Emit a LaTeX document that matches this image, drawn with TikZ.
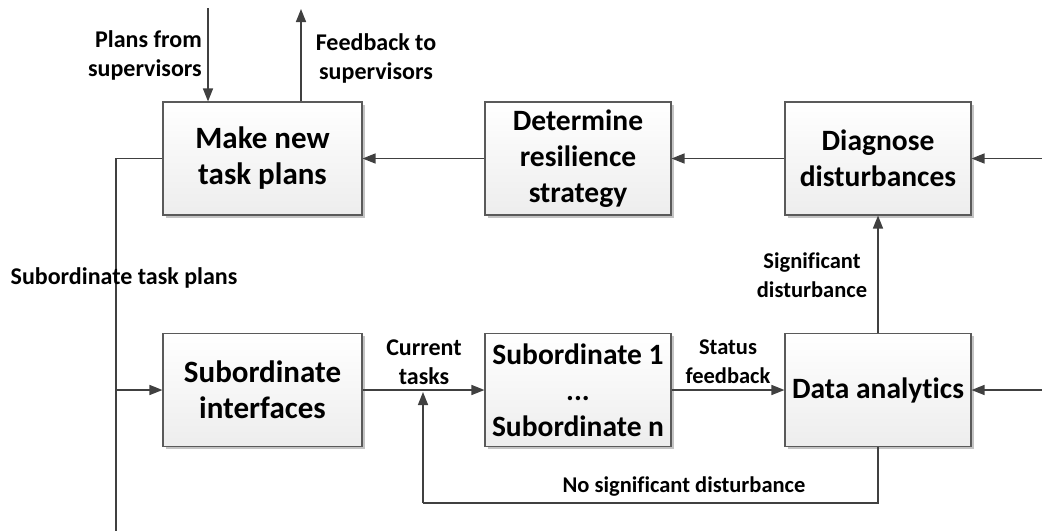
\documentclass[tikz,border=0pt]{standalone}
\usepackage{fontspec}
\setmainfont{Carlito}[Ligatures=NoCommon]
\usetikzlibrary{arrows.meta,shadows,calc}

\definecolor{linegray}{HTML}{404040}
\definecolor{boxborder}{HTML}{5A5A5A}
\definecolor{shadowgray}{HTML}{C4C4C4}

\tikzset{
  block/.style={draw=boxborder, line width=1.1pt,
    top color=white, bottom color=black!7,
    drop shadow={shadow xshift=2.5pt, shadow yshift=-2.5pt, fill=shadowgray, opacity=1},
    align=center, inner sep=0pt,
    font=\fontsize{29.5}{36}\selectfont\bfseries},
  wideblock/.style={block, minimum width=199pt, minimum height=113pt,
    font=\fontsize{31}{36}\selectfont\bfseries},
  narrowblock/.style={block, minimum width=186pt, minimum height=113pt},
  flow/.style={draw=linegray, line width=1.5pt},
  arr/.style={flow, -{Triangle[length=13pt,width=10pt]}},
  lbl/.style={align=center, inner sep=0pt,
    font=\fontsize{22.5}{29}\selectfont\bfseries},
  biglbl/.style={lbl, font=\fontsize{24}{29}\selectfont\bfseries}
}

\begin{document}
\begin{tikzpicture}[x=1pt,y=-1pt]
\useasboundingbox (0,0) rectangle (1042,531);

% top row
\node[wideblock]   (make) at (262.5,158.5) {Make new\\task plans};
\node[narrowblock] (det)  at (578,158.5)   {Determine\\resilience\\strategy};
\node[narrowblock] (diag) at (878,158.5)   {Diagnose\\disturbances};

% bottom row
\node[wideblock]   (subint) at (262.5,390) {Subordinate\\interfaces};
\node[narrowblock] (subs)   at (578,390)   {Subordinate 1\\...\\Subordinate n};
\node[narrowblock] (data)   at (878,390)   {Data analytics};

% loose ends of connectors
\coordinate (pin)  at (208,8);
\coordinate (fout) at (301,9);
\coordinate (rin1) at (1042,158.5);
\coordinate (rin2) at (1042,390);
\coordinate (bus)  at (116,531);
\coordinate (back) at (423,503);

% supervisor links
\draw[arr] (pin) -- (pin |- make.north);
\draw[arr] (fout |- make.north) -- (fout);

% top row flow
\draw[arr] (rin1) -- (diag.east);
\draw[arr] (diag.west) -- (det.east);
\draw[arr] (det.west) -- (make.east);

% task plans down to the subordinates
\draw[flow] (make.west) -| (bus);
\draw[arr] (bus |- subint.west) -- (subint.west);

% bottom row flow
\draw[arr] (subint.east) -- (subs.west);
\draw[arr] (subs.east) -- (data.west);
\draw[arr] (rin2) -- (data.east);
\draw[arr] (data.north) -- (diag.south);
\draw[flow] (data.south) |- (back);
\draw[arr] (back) -- ($(back |- subs.west)+(0,2)$);

% labels
\node[biglbl, align=right, anchor=east] (lplans) at (202,55) {Plans from\\supervisors};
\node[biglbl] (lfeed) at (376,58) {Feedback to\\supervisors};
\node[biglbl] (lsubplans) at (124,278) {Subordinate task plans};
\node[biglbl] (lcur) at (424,362) {Current\\tasks};
\node[lbl] (lstat) at (728,362) {Status\\feedback};
\node[lbl] (lsig) at (812,275) {Significant\\disturbance};
\node[lbl] (lnosig) at (684,487) {No significant disturbance};
\end{tikzpicture}
\end{document}
